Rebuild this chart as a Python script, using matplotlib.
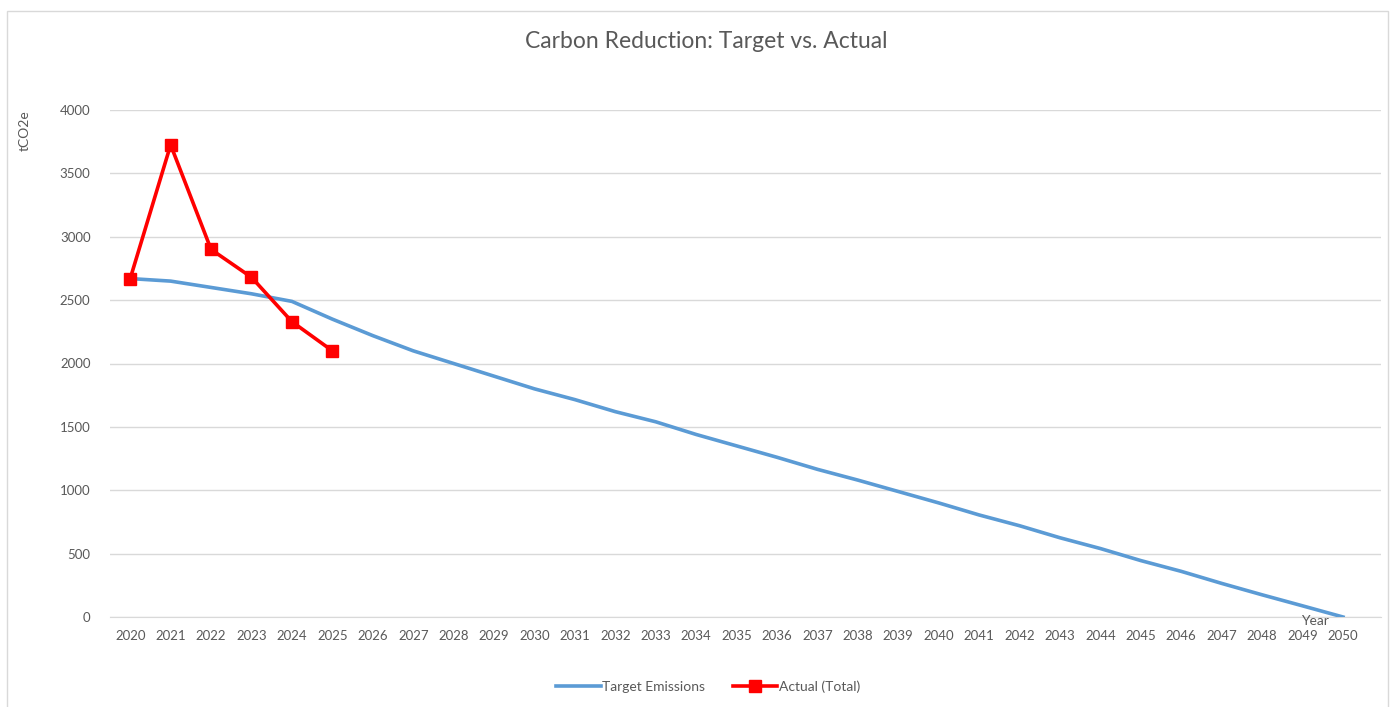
import matplotlib
matplotlib.use("Agg")
import matplotlib.pyplot as plt
from matplotlib.patches import Rectangle

years = list(range(2020, 2051))
target = [2670, 2650, 2600, 2550, 2490, 2350, 2220, 2100, 2000, 1900,
          1800, 1715, 1620, 1540, 1440, 1350, 1260, 1165, 1080, 990,
          900, 805, 720, 625, 540, 445, 360, 265, 175, 88, 0]
actual_years = [2020, 2021, 2022, 2023, 2024, 2025]
actual = [2670, 3725, 2900, 2680, 2330, 2100]
yticks = [0, 500, 1000, 1500, 2000, 2500, 3000, 3500, 4000]

grey = "#595959"
plt.rcParams['font.family'] = ['Lato', 'DejaVu Sans']

fig = plt.figure(figsize=(13.9, 7.07), dpi=100)
ax = fig.add_axes([110/1390, 1 - 617/707, (1381 - 110)/1390, (617 - 110)/707])

ax.plot(years, target, color="#5B9BD5", lw=2.6, label="Target Emissions", zorder=3,
        solid_joinstyle="round")
ax.plot(actual_years, actual, color="#FF0000", lw=2.6, marker="s", ms=8,
        label="Actual (Total)", zorder=4)

ax.set_xlim(2019.5, 2050.94)
ax.set_ylim(0, 4000)
ax.set_yticks(yticks)
ax.set_xticks(years)
ax.tick_params(length=0, colors=grey, labelsize=9.5)
ax.tick_params(axis="y", pad=14)
ax.tick_params(axis="x", pad=9)
ax.grid(axis="y", color="#D9D9D9", lw=1)
ax.set_axisbelow(True)
for s in ["top", "right", "left"]:
    ax.spines[s].set_visible(False)
ax.spines["bottom"].set_color("#D9D9D9")

fig.text(706/1390, 1 - 42/707, "Carbon Reduction: Target vs. Actual", ha="center",
         va="center", fontsize=16.5, color=grey)
fig.text(25/1390, 1 - 131/707, "tCO2e", rotation=90, ha="center", va="center",
         fontsize=10, color=grey)
fig.text(1315/1390, 1 - 621/707, "Year", ha="center", va="center",
         fontsize=10, color=grey)

leg = fig.legend(loc="center", bbox_to_anchor=(708/1390, 1 - 687/707), ncol=2,
                 frameon=False, fontsize=10, handlelength=3.2, handletextpad=0.1,
                 columnspacing=2.0)
for t in leg.get_texts():
    t.set_color(grey)

fig.patches.append(Rectangle((7/1390, -0.01), 1381/1390, 1 - 11/707 + 0.01,
                             transform=fig.transFigure, fill=False,
                             edgecolor="#D9D9D9", lw=1))

fig.savefig("out.png", dpi=100, facecolor="white")
